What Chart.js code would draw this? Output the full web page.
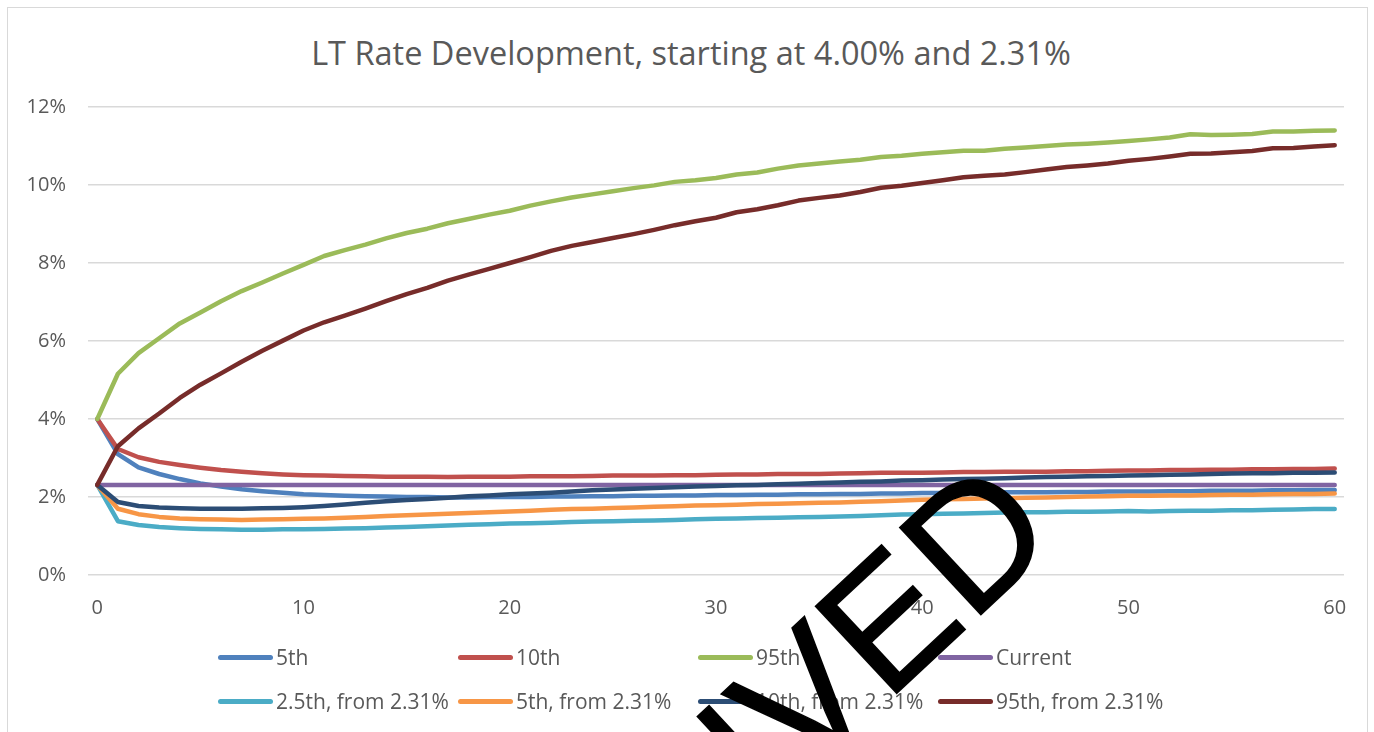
<!DOCTYPE html>
<html>
  <head>
    <title>LT Rate Development</title>
    <meta name="viewport" content="width=device-width, initial-scale=1.0" />
    <script src="https://cdn.jsdelivr.net/npm/chart.js"></script>
    <style>
      body {
        margin: 0;
        background: #fff;
        font-family: "Open Sans", Arial, sans-serif;
        overflow: hidden;
      }

      .page {
        position: relative;
        width: 1374px;
        height: 732px;
        overflow: hidden;
      }

      .frame {
        position: absolute;
        left: 7px;
        top: 7px;
        width: 1359px;
        height: 760px;
        border: 1px solid #d9d9d9;
      }

      h2 {
        position: absolute;
        left: 8px;
        top: 33px;
        width: 1366px;
        margin: 0;
        text-align: center;
        font-size: 32.5px;
        line-height: 39px;
        font-weight: normal;
        color: #595959;
      }

      .chart-wrapper {
        position: absolute;
        left: 0;
        top: 0;
        width: 1374px;
        height: 732px;
      }

      .legend {
        position: absolute;
        left: 218px;
        top: 644px;
        display: grid;
        grid-template-columns: repeat(4, 240px);
        row-gap: 18px;
      }

      .legend-item {
        display: flex;
        align-items: center;
        height: 26px;
        font-size: 21px;
        color: #595959;
        white-space: nowrap;
      }

      .legend-swatch {
        width: 55px;
        height: 5px;
        border-radius: 3px;
        margin-right: 3px;
        flex: none;
      }

      .stamp {
        position: absolute;
        left: 0;
        top: 0;
        pointer-events: none;
      }
    </style>
  </head>
  <body>
    <div class="page">
      <div class="frame"></div>
      <h2>LT Rate Development, starting at 4.00% and 2.31%</h2>
      <div class="chart-wrapper">
        <canvas id="rateChart" width="1374" height="732"></canvas>
      </div>
      <div class="legend" id="legend"></div>
      <svg class="stamp" width="1374" height="732">
        <text x="0" y="0" text-anchor="end" font-family="Liberation Sans, Arial, sans-serif"
          font-size="173" fill="#000" stroke="#000" stroke-width="1.5"
          transform="translate(1062,539) rotate(-43)">ARCHIVED</text>
      </svg>
    </div>

    <script>
      // years ahead
      var years = [
        0, 1, 2, 3, 4, 5, 6, 7, 8, 9, 10, 11, 12, 13, 14, 15, 16, 17, 18, 19, 20,
        21, 22, 23, 24, 25, 26, 27, 28, 29, 30, 31, 32, 33, 34, 35, 36, 37, 38, 39, 40,
        41, 42, 43, 44, 45, 46, 47, 48, 49, 50, 51, 52, 53, 54, 55, 56, 57, 58, 59, 60,
      ];
      var xTicks = [0, 10, 20, 30, 40, 50, 60];
      var yTicks = [0, 2, 4, 6, 8, 10, 12];

      // percentiles starting at 4.00%
      var p5 = [
        4.0, 3.1, 2.76, 2.59, 2.46, 2.35, 2.27, 2.2, 2.15, 2.11, 2.07,
        2.05, 2.03, 2.02, 2.01, 2.0, 2.0, 1.99, 1.99, 2.0, 2.0,
        2.0, 2.01, 2.01, 2.02, 2.02, 2.03, 2.03, 2.04, 2.04, 2.05,
        2.05, 2.06, 2.06, 2.07, 2.07, 2.08, 2.08, 2.09, 2.09, 2.1,
        2.1, 2.11, 2.11, 2.12, 2.12, 2.12, 2.13, 2.13, 2.14, 2.14,
        2.14, 2.15, 2.15, 2.16, 2.16, 2.16, 2.17, 2.17, 2.18, 2.18,
      ];
      var p10 = [
        4.0, 3.23, 3.02, 2.9, 2.82, 2.75, 2.69, 2.65, 2.61, 2.58, 2.56,
        2.55, 2.54, 2.53, 2.52, 2.52, 2.52, 2.51, 2.52, 2.52, 2.52,
        2.53, 2.53, 2.53, 2.54, 2.55, 2.55, 2.55, 2.56, 2.56, 2.57,
        2.58, 2.58, 2.59, 2.59, 2.59, 2.6, 2.61, 2.62, 2.62, 2.62,
        2.63, 2.64, 2.64, 2.65, 2.65, 2.65, 2.66, 2.66, 2.67, 2.68,
        2.68, 2.69, 2.69, 2.7, 2.7, 2.71, 2.71, 2.72, 2.72, 2.73,
      ];
      var p95 = [
        4.0, 5.16, 5.69, 6.07, 6.45, 6.73, 7.02, 7.28, 7.5, 7.73, 7.95,
        8.18, 8.33, 8.47, 8.63, 8.77, 8.88, 9.02, 9.13, 9.24, 9.34,
        9.47, 9.58, 9.68, 9.76, 9.84, 9.92, 9.99, 10.08, 10.12, 10.18,
        10.27, 10.32, 10.42, 10.5, 10.55, 10.6, 10.65, 10.72, 10.75, 10.8,
        10.84, 10.88, 10.88, 10.93, 10.96, 11.0, 11.04, 11.06, 11.09, 11.13,
        11.17, 11.22, 11.3, 11.28, 11.29, 11.31, 11.37, 11.37, 11.39, 11.4,
      ];
      var current = [
        2.31, 2.31, 2.31, 2.31, 2.31, 2.31, 2.31, 2.31, 2.31, 2.31, 2.31,
        2.31, 2.31, 2.31, 2.31, 2.31, 2.31, 2.31, 2.31, 2.31, 2.31,
        2.31, 2.31, 2.31, 2.31, 2.31, 2.31, 2.31, 2.31, 2.31, 2.31,
        2.31, 2.31, 2.31, 2.31, 2.31, 2.31, 2.31, 2.31, 2.31, 2.31,
        2.31, 2.31, 2.31, 2.31, 2.31, 2.31, 2.31, 2.31, 2.31, 2.31,
        2.31, 2.31, 2.31, 2.31, 2.31, 2.31, 2.31, 2.31, 2.31, 2.31,
      ];

      // percentiles starting at 2.31%
      var q2_5 = [
        2.31, 1.38, 1.28, 1.23, 1.2, 1.18, 1.17, 1.16, 1.16, 1.17, 1.17,
        1.18, 1.19, 1.2, 1.22, 1.23, 1.25, 1.27, 1.29, 1.3, 1.32,
        1.33, 1.34, 1.36, 1.37, 1.38, 1.39, 1.4, 1.41, 1.43, 1.44,
        1.45, 1.46, 1.47, 1.48, 1.49, 1.5, 1.51, 1.53, 1.55, 1.56,
        1.57, 1.58, 1.59, 1.6, 1.61, 1.61, 1.62, 1.62, 1.63, 1.64,
        1.63, 1.64, 1.65, 1.65, 1.66, 1.66, 1.67, 1.68, 1.69, 1.69,
      ];
      var q5 = [
        2.31, 1.7, 1.56, 1.49, 1.45, 1.43, 1.42, 1.41, 1.42, 1.43, 1.44,
        1.45, 1.47, 1.49, 1.51, 1.53, 1.55, 1.57, 1.59, 1.61, 1.63,
        1.65, 1.67, 1.69, 1.7, 1.72, 1.73, 1.75, 1.76, 1.78, 1.79,
        1.8, 1.82, 1.83, 1.84, 1.85, 1.86, 1.88, 1.89, 1.91, 1.93,
        1.94, 1.95, 1.96, 1.97, 1.98, 1.99, 2.0, 2.01, 2.02, 2.03,
        2.03, 2.04, 2.04, 2.05, 2.06, 2.06, 2.07, 2.08, 2.08, 2.09,
      ];
      var q10 = [
        2.31, 1.87, 1.77, 1.73, 1.71, 1.7, 1.7, 1.7, 1.71, 1.72, 1.74,
        1.77, 1.81, 1.85, 1.89, 1.92, 1.95, 1.98, 2.02, 2.04, 2.07,
        2.09, 2.11, 2.14, 2.17, 2.19, 2.21, 2.23, 2.25, 2.27, 2.28,
        2.3, 2.31, 2.33, 2.34, 2.36, 2.37, 2.39, 2.4, 2.42, 2.43,
        2.45, 2.46, 2.47, 2.48, 2.5, 2.51, 2.52, 2.53, 2.54, 2.55,
        2.56, 2.57, 2.58, 2.59, 2.6, 2.61, 2.61, 2.62, 2.62, 2.63,
      ];
      var q95 = [
        2.31, 3.3, 3.76, 4.14, 4.54, 4.88, 5.17, 5.47, 5.75, 6.01, 6.27,
        6.48, 6.65, 6.83, 7.02, 7.2, 7.36, 7.55, 7.7, 7.85, 8.0,
        8.15, 8.31, 8.44, 8.54, 8.64, 8.74, 8.85, 8.97, 9.07, 9.16,
        9.3, 9.38, 9.48, 9.6, 9.67, 9.73, 9.82, 9.93, 9.98, 10.05,
        10.12, 10.2, 10.24, 10.27, 10.33, 10.4, 10.46, 10.5, 10.55, 10.62,
        10.67, 10.73, 10.8, 10.81, 10.84, 10.87, 10.94, 10.95, 10.99, 11.02,
      ];

      var seriesNames = [
        "5th", "10th", "95th", "Current",
        "2.5th, from 2.31%", "5th, from 2.31%", "10th, from 2.31%", "95th, from 2.31%",
      ];
      var seriesValues = [p5, p10, p95, current, q2_5, q5, q10, q95];
      var seriesColors = [
        "#4F81BD", "#C0504D", "#9BBB59", "#8064A2",
        "#4BACC6", "#F79646", "#2C4D75", "#772C2A",
      ];

      var datasets = seriesNames.map(function (name, i) {
        return {
          label: name,
          data: seriesValues[i],
          borderColor: seriesColors[i],
          backgroundColor: seriesColors[i],
          borderWidth: 4.5,
          borderCapStyle: "round",
          borderJoinStyle: "round",
          pointRadius: 0,
          tension: 0,
          order: -i, // later series on top, like Excel
        };
      });

      const ctx = document.getElementById("rateChart");
      const chart = new Chart(ctx, {
        type: "line",
        data: { labels: years, datasets: datasets },
        options: {
          responsive: false,
          animation: false,
          layout: { padding: { left: 0, right: 30, top: 107, bottom: 99 } },
          plugins: {
            legend: { display: false },
            tooltip: { enabled: false },
          },
          scales: {
            x: {
              type: "linear",
              min: -0.45,
              max: 60.45,
              afterBuildTicks: function (scale) {
                scale.ticks = xTicks.map(function (v) {
                  return { value: v };
                });
              },
              grid: { display: false },
              border: { display: false },
              ticks: {
                color: "#595959",
                padding: 13,
                maxRotation: 0,
                font: { family: "Open Sans", size: 20 },
              },
            },
            y: {
              min: 0,
              max: 12,
              afterBuildTicks: function (scale) {
                scale.ticks = yTicks.map(function (v) {
                  return { value: v };
                });
              },
              afterFit: function (scale) {
                scale.width = 88;
              },
              grid: { color: "#D9D9D9", lineWidth: 1.5, drawTicks: false },
              border: { display: false },
              ticks: {
                color: "#595959",
                padding: 22,
                font: { family: "Open Sans", size: 20 },
                callback: function (v) {
                  return v + "%";
                },
              },
            },
          },
        },
      });

      // legend in four fixed columns
      var legendBox = document.getElementById("legend");
      chart.data.datasets.forEach(function (ds) {
        var item = document.createElement("div");
        item.className = "legend-item";
        var sw = document.createElement("span");
        sw.className = "legend-swatch";
        sw.style.background = ds.borderColor;
        item.appendChild(sw);
        item.appendChild(document.createTextNode(ds.label));
        legendBox.appendChild(item);
      });
    </script>
  </body>
</html>
